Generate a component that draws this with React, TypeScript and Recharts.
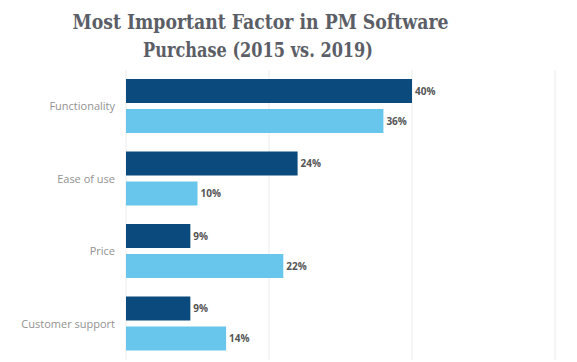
import { BarChart, Bar, XAxis, YAxis, CartesianGrid, LabelList } from 'recharts';

const categories = ['Functionality', 'Ease of use', 'Price', 'Customer support'];
const values2015 = [40, 24, 9, 9];
const values2019 = [36, 10, 22, 14];
const xTicks = [0, 20, 40, 60];

const data = categories.map((name, i) => ({
  name,
  y2015: values2015[i],
  y2019: values2019[i],
}));

const pct = (v: unknown) => `${v}%`;

export default function App() {
  return (
    <div style={{ position: 'fixed', left: 0, top: 0, width: 577, height: 362, background: '#fff', overflow: 'hidden' }}>
      <svg width={577} height={70} style={{ position: 'absolute', left: 0, top: 0 }}>
        <g
          fill="#5b5e66"
          fontFamily="'DejaVu Serif', serif"
          fontWeight="bold"
          fontSize={21}
          textAnchor="middle"
          style={{ fontStretch: 'condensed' }}
        >
          <text x={260.5} y={29} textLength={376} lengthAdjust="spacingAndGlyphs">
            Most Important Factor in PM Software
          </text>
          <text x={258} y={57} textLength={230} lengthAdjust="spacingAndGlyphs">
            Purchase (2015 vs. 2019)
          </text>
        </g>
      </svg>
      <div style={{ position: 'absolute', left: 0, top: 70 }}>
        <BarChart
          width={577}
          height={290}
          data={data}
          layout="vertical"
          margin={{ top: 0, right: 22, bottom: 0, left: 0 }}
          barSize={24}
          barGap={6}
        >
          <CartesianGrid horizontal={false} stroke="#ececec" />
          <XAxis type="number" domain={[0, 60]} ticks={xTicks} hide />
          <YAxis
            type="category"
            dataKey="name"
            width={126}
            tickLine={false}
            axisLine={false}
            tickSize={0}
            tickMargin={11}
            tick={{ fill: '#929292', fontSize: 11, fontFamily: "'Open Sans', sans-serif" }}
          />
          <Bar dataKey="y2015" fill="#0a4a7c" isAnimationActive={false}>
            <LabelList
              dataKey="y2015"
              position="right"
              offset={3}
              formatter={pct}
              fill="#555"
              style={{ fontSize: 10, fontWeight: 'bold', fontFamily: "'Open Sans', sans-serif" }}
            />
          </Bar>
          <Bar dataKey="y2019" fill="#68c5ec" isAnimationActive={false}>
            <LabelList
              dataKey="y2019"
              position="right"
              offset={3}
              formatter={pct}
              fill="#555"
              style={{ fontSize: 10, fontWeight: 'bold', fontFamily: "'Open Sans', sans-serif" }}
            />
          </Bar>
        </BarChart>
      </div>
    </div>
  );
}
